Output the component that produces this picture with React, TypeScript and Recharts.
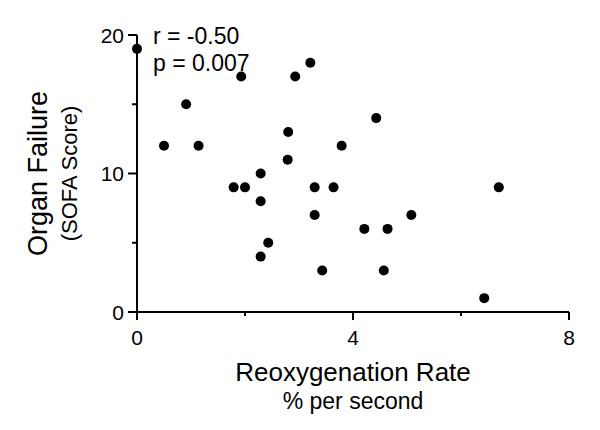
import React from 'react';
import { ScatterChart, Scatter, XAxis, YAxis } from 'recharts';

const rates = [0, 0.91, 0.5, 1.14, 1.93, 2.93, 3.21, 2.8, 2.79, 3.79, 2.29, 4.43, 1.79, 2.0, 2.29, 2.43, 2.29, 3.29, 3.64, 3.29, 3.43, 4.21, 4.64, 5.08, 6.7, 4.57, 6.43];
const sofa = [19, 15, 12, 12, 17, 17, 18, 13, 11, 12, 10, 14, 9, 9, 8, 5, 4, 9, 9, 7, 3, 6, 6, 7, 9, 3, 1];

const xTicks = [0, 2, 4, 6, 8];
const xTickLabels = ['0', '', '4', '', '8'];
const yTicks = [0, 5, 10, 15, 20];
const yTickLabels = ['0', '', '10', '', '20'];

const statLines = ['r = -0.50', 'p = 0.007'];
const xTitle = 'Reoxygenation Rate';
const xSubtitle = '% per second';
const yTitle = 'Organ Failure';
const ySubtitle = '(SOFA Score)';

const data = rates.map((x, i) => ({ x, y: sofa[i] }));

const FONT = '"Liberation Sans", Arial, Helvetica, sans-serif';

const XTick = (props: any) => {
  const { x, y, payload } = props;
  const i = xTicks.indexOf(payload.value);
  const label = xTickLabels[i];
  const len = label ? 8 : 4;
  return (
    <g>
      <line x1={x} y1={y} x2={x} y2={y + len} stroke="#000" strokeWidth={2} />
      {label ? (
        <text x={x} y={y + 33} textAnchor="middle" fontSize={21} fontFamily={FONT} fill="#000">
          {label}
        </text>
      ) : null}
    </g>
  );
};

const YTick = (props: any) => {
  const { x, y, payload } = props;
  const i = yTicks.indexOf(payload.value);
  const label = yTickLabels[i];
  const len = label ? 9 : 5;
  return (
    <g>
      <line x1={x} y1={y} x2={x - len} y2={y} stroke="#000" strokeWidth={2} />
      {label ? (
        <text x={x - 13} y={y} dy="0.36em" textAnchor="end" fontSize={21} fontFamily={FONT} fill="#000">
          {label}
        </text>
      ) : null}
    </g>
  );
};

const XTitle = (props: any) => {
  const { x, y, width } = props.viewBox;
  const cx = x + width / 2;
  return (
    <g>
      <text x={cx} y={y + 69} textAnchor="middle" fontSize={26} fontFamily={FONT} fill="#000">
        {xTitle}
      </text>
      <text x={cx} y={y + 97} textAnchor="middle" fontSize={23} fontFamily={FONT} fill="#000">
        {xSubtitle}
      </text>
    </g>
  );
};

const YTitle = (props: any) => {
  const { x, y, width, height } = props.viewBox;
  const right = x + width;
  const cy = y + height / 2;
  return (
    <g>
      <text
        x={right - 90}
        y={cy}
        transform={`rotate(-90, ${right - 90}, ${cy})`}
        textAnchor="middle"
        fontSize={27}
        fontFamily={FONT}
        fill="#000"
      >
        {yTitle}
      </text>
      <text
        x={right - 60}
        y={cy}
        transform={`rotate(-90, ${right - 60}, ${cy})`}
        textAnchor="middle"
        fontSize={22}
        fontFamily={FONT}
        fill="#000"
      >
        {ySubtitle}
      </text>
      {statLines.map((s, i) => (
        <text key={s} x={right + 16} y={y + 9 + i * 27} fontSize={23} fontFamily={FONT} fill="#000">
          {s}
        </text>
      ))}
    </g>
  );
};

const Dot = (props: any) => <circle cx={props.cx} cy={props.cy} r={5} fill="#000" />;

export default function App() {
  return (
    <div style={{ position: 'absolute', left: 0, top: 0, width: 600, height: 430, background: '#fff' }}>
      <ScatterChart width={600} height={430} margin={{ top: 35, right: 31, bottom: 88, left: 77 }}>
        <XAxis
          type="number"
          dataKey="x"
          domain={[0, 8]}
          ticks={xTicks}
          interval={0}
          height={30}
          tickSize={0}
          tickMargin={0}
          tickLine={false}
          axisLine={{ stroke: '#000', strokeWidth: 2 }}
          tick={<XTick />}
          label={<XTitle />}
        />
        <YAxis
          type="number"
          dataKey="y"
          domain={[0, 20]}
          ticks={yTicks}
          interval={0}
          width={60}
          tickSize={0}
          tickMargin={0}
          tickLine={false}
          axisLine={{ stroke: '#000', strokeWidth: 2 }}
          tick={<YTick />}
          label={<YTitle />}
        />
        <Scatter data={data} fill="#000" shape={<Dot />} isAnimationActive={false} />
      </ScatterChart>
    </div>
  );
}
